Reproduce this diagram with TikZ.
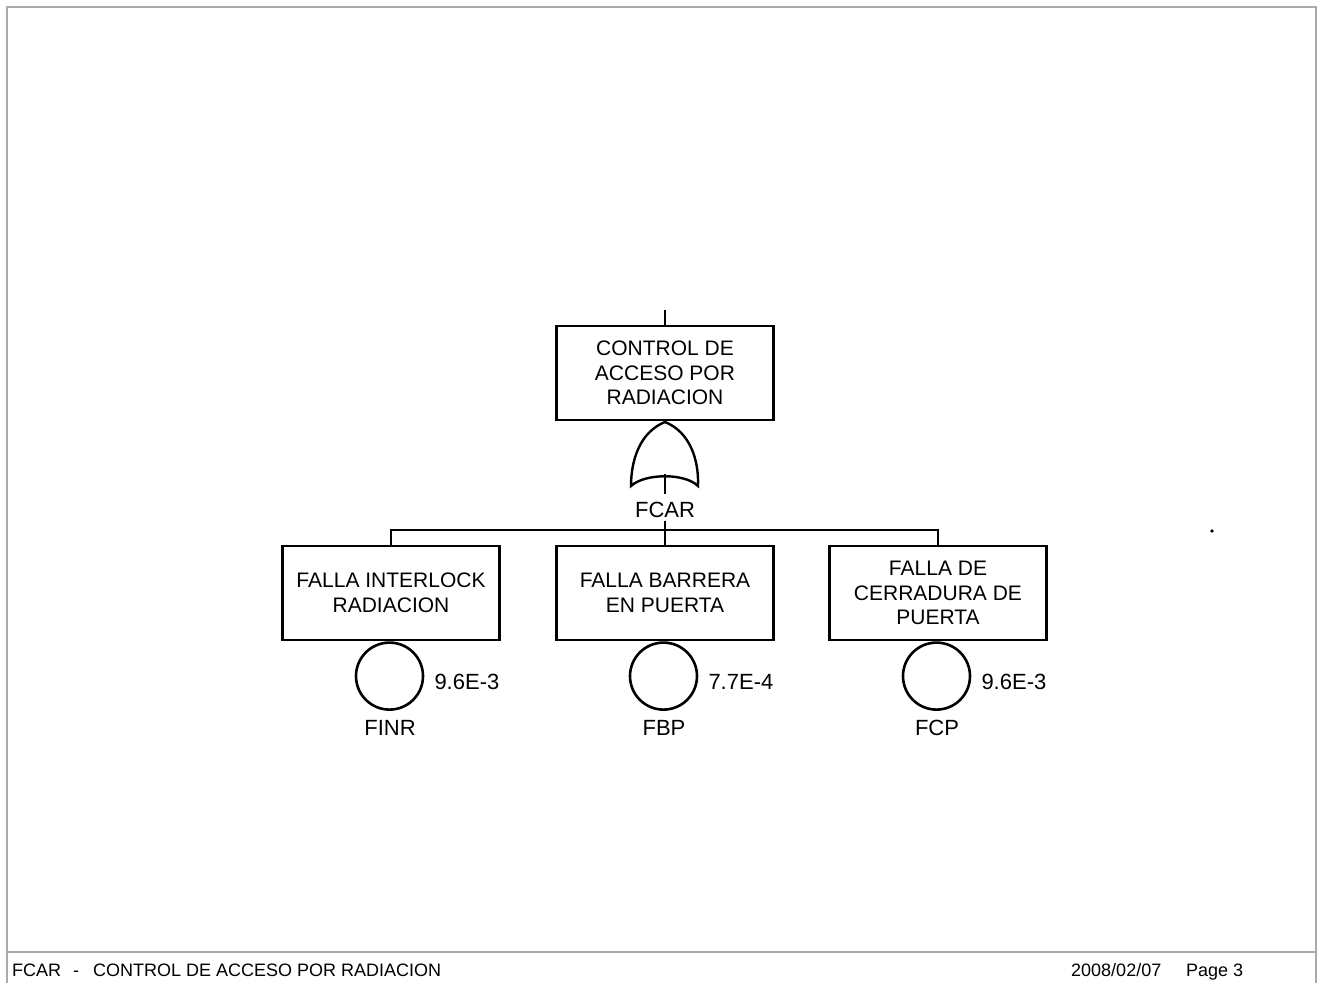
\documentclass[tikz,border=0pt]{standalone}
\usepackage{fontspec}
\setmainfont{Liberation Sans}
\usepackage{xcolor}
\definecolor{framegray}{RGB}{170,170,170}

\begin{document}
\begin{tikzpicture}[
    x=1pt, y=-1pt,
    event/.style={rectangle, draw=black, line width=2.6pt, fill=white,
        minimum width=217pt, minimum height=94pt, align=center,
        font=\fontsize{21}{24.5}\selectfont, inner sep=0pt},
    basic/.style={circle, draw=black, line width=2.6pt, fill=white,
        minimum size=67pt, inner sep=0pt},
    tag/.style={font=\fontsize{22}{24}\selectfont, inner sep=0pt},
    prob/.style={tag, anchor=west, xshift=10pt, yshift=-6pt},
    foot/.style={font=\fontsize{18}{20}\selectfont, inner sep=0pt, anchor=base west},
    link/.style={line width=2pt, black},
    gate/.style={line width=2.4pt, black, fill=white}
]
    \useasboundingbox (0,0) rectangle (1323,983);

    % page frame
    \draw[framegray, line width=1.5pt] (7,983) -- (7,7) -- (1316,7) -- (1316,983);
    \draw[framegray, line width=1.5pt] (7,952) -- (1316,952);

    % top event
    \node[event] (top) at (665,373) {CONTROL DE\\ACCESO POR\\RADIACION};
    \coordinate (in) at (665,310);
    \draw[link] (in) -- (top.north);

    % OR gate
    \coordinate (apex) at (665,422);
    \coordinate (gl) at (631,486);
    \coordinate (gr) at (698,486);
    \coordinate (gbase) at (665,474);
    \draw[gate] (apex) .. controls (690,432) and (699,460) .. (gr)
        .. controls (685,473) and (645,473) .. (gl)
        .. controls (631,460) and (640,432) .. (apex) -- cycle;
    \node[tag] (fcar) at (665,510) {FCAR};
    \draw[link] (gbase) -- ([yshift=8pt]fcar.north);

    % intermediate events
    \node[event] (finr) at (391,593) {FALLA INTERLOCK\\RADIACION};
    \node[event] (fbp) at (665,593) {FALLA BARRERA\\EN PUERTA};
    \node[event] (fcp) at (938,593) {FALLA DE\\CERRADURA DE\\PUERTA};

    \coordinate (bus) at (665,530);
    \draw[link] ([yshift=-3pt]fcar.south) -- (bus);
    \draw[link] (bus) -| (finr.north);
    \draw[link] (bus) -| (fcp.north);
    \draw[link] (bus) -- (fbp.north);

    % basic events
    \node[basic, anchor=north] (cfinr) at ([xshift=-1.5pt]finr.south) {};
    \node[basic, anchor=north] (cfbp) at ([xshift=-1.5pt]fbp.south) {};
    \node[basic, anchor=north] (cfcp) at ([xshift=-1.5pt]fcp.south) {};

    \node[prob] (pfinr) at (cfinr.east) {9.6E-3};
    \node[prob] (pfbp) at (cfbp.east) {7.7E-4};
    \node[prob] (pfcp) at (cfcp.east) {9.6E-3};

    \node[tag] (lfinr) at (390,728) {FINR};
    \node[tag] (lfbp) at (664,728) {FBP};
    \node[tag] (lfcp) at (937,728) {FCP};

    % stray dot
    \fill (1212,531) circle (1.8pt);

    % footer
    \node[foot] (title) at (12,976) {FCAR\hspace{12pt}-\hspace{14pt}CONTROL DE ACCESO POR RADIACION};
    \node[foot] (date) at (1071,976) {2008/02/07};
    \node[foot] (page) at (1186,976) {Page 3};
\end{tikzpicture}
\end{document}
